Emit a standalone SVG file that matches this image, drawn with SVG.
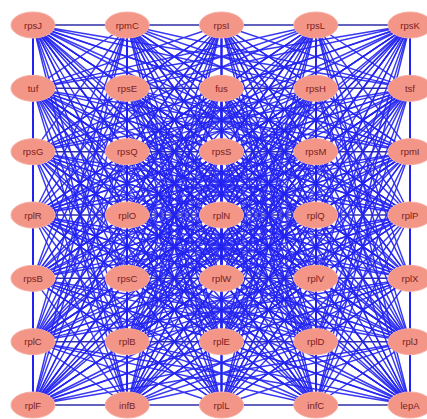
<svg xmlns="http://www.w3.org/2000/svg" xmlns:xlink="http://www.w3.org/1999/xlink" width="427" height="419" viewBox="0 0 427 419">
<style>
.e{fill:none;stroke:#2222f2;stroke-width:1.45;stroke-opacity:0.9;vector-effect:non-scaling-stroke}
.h{fill:none;stroke:#3030a8;stroke-width:1.5}
.n ellipse{fill:#f39587;stroke:#f6ada2;stroke-width:1}
.n text{font-family:"Liberation Sans",Arial,sans-serif;font-size:9.5px;fill:#7a2222;text-anchor:middle;dominant-baseline:central}
</style>
<defs>
<path id="b" class="e" d="M33 0L33 1M33 0L127.25 1M33 0L221.5 1M33 0L315.75 1M33 0L410 1M127.25 0L33 1M127.25 0L127.25 1M127.25 0L221.5 1M127.25 0L315.75 1M127.25 0L410 1M221.5 0L33 1M221.5 0L127.25 1M221.5 0L221.5 1M221.5 0L315.75 1M221.5 0L410 1M315.75 0L33 1M315.75 0L127.25 1M315.75 0L221.5 1M315.75 0L315.75 1M315.75 0L410 1M410 0L33 1M410 0L127.25 1M410 0L221.5 1M410 0L315.75 1M410 0L410 1"/>
</defs>
<rect width="427" height="419" fill="#ffffff"/>
<g id="edges">
<path class="h" d="M33 25H410M33 88.333H410M33 151.667H410M33 215H410M33 278.333H410M33 341.667H410M33 405H410"/>
<use xlink:href="#b" href="#b" transform="translate(0,25) scale(1,63.333)"/>
<use xlink:href="#b" href="#b" transform="translate(0,25) scale(1,126.667)"/>
<use xlink:href="#b" href="#b" transform="translate(0,25) scale(1,190)"/>
<use xlink:href="#b" href="#b" transform="translate(0,25) scale(1,253.333)"/>
<use xlink:href="#b" href="#b" transform="translate(0,25) scale(1,316.667)"/>
<use xlink:href="#b" href="#b" transform="translate(0,25) scale(1,380)"/>
<use xlink:href="#b" href="#b" transform="translate(0,88.333) scale(1,63.333)"/>
<use xlink:href="#b" href="#b" transform="translate(0,88.333) scale(1,126.667)"/>
<use xlink:href="#b" href="#b" transform="translate(0,88.333) scale(1,190)"/>
<use xlink:href="#b" href="#b" transform="translate(0,88.333) scale(1,253.333)"/>
<use xlink:href="#b" href="#b" transform="translate(0,88.333) scale(1,316.667)"/>
<use xlink:href="#b" href="#b" transform="translate(0,151.667) scale(1,63.333)"/>
<use xlink:href="#b" href="#b" transform="translate(0,151.667) scale(1,126.667)"/>
<use xlink:href="#b" href="#b" transform="translate(0,151.667) scale(1,190)"/>
<use xlink:href="#b" href="#b" transform="translate(0,151.667) scale(1,253.333)"/>
<use xlink:href="#b" href="#b" transform="translate(0,215) scale(1,63.333)"/>
<use xlink:href="#b" href="#b" transform="translate(0,215) scale(1,126.667)"/>
<use xlink:href="#b" href="#b" transform="translate(0,215) scale(1,190)"/>
<use xlink:href="#b" href="#b" transform="translate(0,278.333) scale(1,63.333)"/>
<use xlink:href="#b" href="#b" transform="translate(0,278.333) scale(1,126.667)"/>
<use xlink:href="#b" href="#b" transform="translate(0,341.667) scale(1,63.333)"/>
</g>
<g id="nodes">
<g id="rpsJ" class="n" transform="translate(33,25)"><ellipse rx="22" ry="13"/><text>rpsJ</text></g>
<g id="rpmC" class="n" transform="translate(127.25,25)"><ellipse rx="22" ry="13"/><text>rpmC</text></g>
<g id="rpsI" class="n" transform="translate(221.5,25)"><ellipse rx="22" ry="13"/><text>rpsI</text></g>
<g id="rpsL" class="n" transform="translate(315.75,25)"><ellipse rx="22" ry="13"/><text>rpsL</text></g>
<g id="rpsK" class="n" transform="translate(410,25)"><ellipse rx="22" ry="13"/><text>rpsK</text></g>
<g id="tuf" class="n" transform="translate(33,88.333)"><ellipse rx="22" ry="13"/><text>tuf</text></g>
<g id="rpsE" class="n" transform="translate(127.25,88.333)"><ellipse rx="22" ry="13"/><text>rpsE</text></g>
<g id="fus" class="n" transform="translate(221.5,88.333)"><ellipse rx="22" ry="13"/><text>fus</text></g>
<g id="rpsH" class="n" transform="translate(315.75,88.333)"><ellipse rx="22" ry="13"/><text>rpsH</text></g>
<g id="tsf" class="n" transform="translate(410,88.333)"><ellipse rx="22" ry="13"/><text>tsf</text></g>
<g id="rpsG" class="n" transform="translate(33,151.667)"><ellipse rx="22" ry="13"/><text>rpsG</text></g>
<g id="rpsQ" class="n" transform="translate(127.25,151.667)"><ellipse rx="22" ry="13"/><text>rpsQ</text></g>
<g id="rpsS" class="n" transform="translate(221.5,151.667)"><ellipse rx="22" ry="13"/><text>rpsS</text></g>
<g id="rpsM" class="n" transform="translate(315.75,151.667)"><ellipse rx="22" ry="13"/><text>rpsM</text></g>
<g id="rpmI" class="n" transform="translate(410,151.667)"><ellipse rx="22" ry="13"/><text>rpmI</text></g>
<g id="rplR" class="n" transform="translate(33,215)"><ellipse rx="22" ry="13"/><text>rplR</text></g>
<g id="rplO" class="n" transform="translate(127.25,215)"><ellipse rx="22" ry="13"/><text>rplO</text></g>
<g id="rplN" class="n" transform="translate(221.5,215)"><ellipse rx="22" ry="13"/><text>rplN</text></g>
<g id="rplQ" class="n" transform="translate(315.75,215)"><ellipse rx="22" ry="13"/><text>rplQ</text></g>
<g id="rplP" class="n" transform="translate(410,215)"><ellipse rx="22" ry="13"/><text>rplP</text></g>
<g id="rpsB" class="n" transform="translate(33,278.333)"><ellipse rx="22" ry="13"/><text>rpsB</text></g>
<g id="rpsC" class="n" transform="translate(127.25,278.333)"><ellipse rx="22" ry="13"/><text>rpsC</text></g>
<g id="rplW" class="n" transform="translate(221.5,278.333)"><ellipse rx="22" ry="13"/><text>rplW</text></g>
<g id="rplV" class="n" transform="translate(315.75,278.333)"><ellipse rx="22" ry="13"/><text>rplV</text></g>
<g id="rplX" class="n" transform="translate(410,278.333)"><ellipse rx="22" ry="13"/><text>rplX</text></g>
<g id="rplC" class="n" transform="translate(33,341.667)"><ellipse rx="22" ry="13"/><text>rplC</text></g>
<g id="rplB" class="n" transform="translate(127.25,341.667)"><ellipse rx="22" ry="13"/><text>rplB</text></g>
<g id="rplE" class="n" transform="translate(221.5,341.667)"><ellipse rx="22" ry="13"/><text>rplE</text></g>
<g id="rplD" class="n" transform="translate(315.75,341.667)"><ellipse rx="22" ry="13"/><text>rplD</text></g>
<g id="rplJ" class="n" transform="translate(410,341.667)"><ellipse rx="22" ry="13"/><text>rplJ</text></g>
<g id="rplF" class="n" transform="translate(33,405)"><ellipse rx="22" ry="13"/><text>rplF</text></g>
<g id="infB" class="n" transform="translate(127.25,405)"><ellipse rx="22" ry="13"/><text>infB</text></g>
<g id="rplL" class="n" transform="translate(221.5,405)"><ellipse rx="22" ry="13"/><text>rplL</text></g>
<g id="infC" class="n" transform="translate(315.75,405)"><ellipse rx="22" ry="13"/><text>infC</text></g>
<g id="lepA" class="n" transform="translate(410,405)"><ellipse rx="22" ry="13"/><text>lepA</text></g>
</g>
</svg>
